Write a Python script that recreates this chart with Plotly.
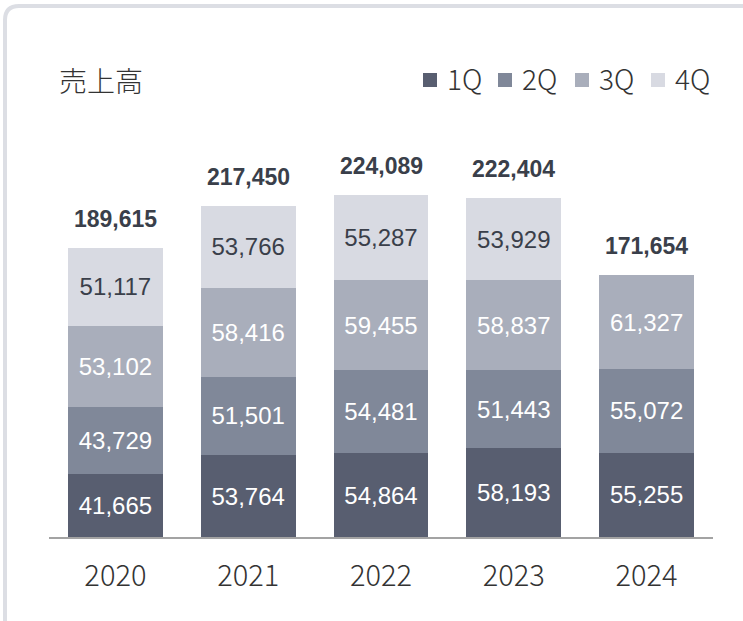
import plotly.graph_objects as go

W, H = 743, 621

# ---------------- data ----------------
years = ["2020", "2021", "2022", "2023", "2024"]
q1 = [41665, 53764, 54864, 58193, 55255]
q2 = [43729, 51501, 54481, 51443, 55072]
q3 = [53102, 58416, 59455, 58837, 61327]
q4 = [51117, 53766, 55287, 53929, None]
totals = [189615, 217450, 224089, 222404, 171654]

quarters = ["1Q", "2Q", "3Q", "4Q"]
colors = ["#585e70", "#808899", "#a9aebb", "#d8dae2"]
label_colors = ["#ffffff", "#ffffff", "#ffffff", "#3a3f4a"]

# pixel helpers (margins are 0, so paper == pixels)
def px(x):
    return x / W

def py(y):
    return 1 - y / H

fig = go.Figure()

for name, vals, c, tc in zip(quarters, [q1, q2, q3, q4], colors, label_colors):
    fig.add_trace(go.Bar(
        x=years, y=vals, name=name,
        marker=dict(color=c, line=dict(width=0)),
        text=[f"{v:,}" if v is not None else "" for v in vals],
        textposition="inside", insidetextanchor="middle", textangle=0,
        textfont=dict(family="Liberation Sans, Arial", size=24, color=tc),
        hoverinfo="skip", showlegend=False,
    ))

annotations = []
# totals above the bars (x given as category index, since "2020" would be read as a number)
for i, t in enumerate(totals):
    annotations.append(dict(
        x=i, y=t, xref="x", yref="y", text=f"<b>{t:,}</b>", showarrow=False,
        yanchor="middle", yshift=29,
        font=dict(family="Liberation Sans, Arial", size=23, color="#3a3f4a"),
    ))

# title
annotations.append(dict(
    xref="paper", yref="paper", x=px(57), y=py(80),
    xanchor="left", yanchor="middle", showarrow=False, text="売上高",
    font=dict(family="Noto Sans CJK JP", size=28, color="#333333", weight=300),
))

# card border
shapes = [dict(
    type="path", xref="paper", yref="paper",
    path=(f"M {px(5)},{py(660)} L {px(5)},{py(20)} "
          f"Q {px(5)},{py(6)} {px(19)},{py(6)} L {px(780)},{py(6)}"),
    line=dict(color="#dcdee4", width=4),
)]

# legend drawn by hand: square + label
legend_x = [423, 498, 575, 651]
for q, c, lx in zip(quarters, colors, legend_x):
    shapes.append(dict(
        type="rect", xref="paper", yref="paper",
        x0=px(lx), x1=px(lx + 14), y0=py(87), y1=py(73),
        fillcolor=c, line=dict(width=0),
    ))
    annotations.append(dict(
        xref="paper", yref="paper", x=px(lx + 22), y=py(78),
        xanchor="left", yanchor="middle", showarrow=False, text=q,
        font=dict(family="Noto Sans CJK JP", size=28, color="#333333", weight=300),
    ))

# y scale: baseline at 537px, 0.001524 px per unit
y_top_px = 130
ymax = (537 - y_top_px) / 0.001524

fig.update_layout(
    width=W, height=H,
    barmode="stack", bargap=0.285,
    margin=dict(l=0, r=0, t=0, b=0),
    paper_bgcolor="white", plot_bgcolor="white",
    uniformtext=dict(minsize=22, mode="show"),
    showlegend=False,
    xaxis=dict(
        type="category", automargin=False,
        domain=[px(49), px(713)], range=[-0.5, len(years) - 0.5],
        showline=True, linecolor="#a3a3a3", linewidth=2,
        showgrid=False, zeroline=False, fixedrange=True,
        ticks="", ticklabelstandoff=12,
        tickfont=dict(family="Noto Sans CJK JP", size=29, color="#333333", weight=300),
    ),
    yaxis=dict(
        automargin=False,
        domain=[py(537), py(y_top_px)],
        range=[0, ymax], visible=False, fixedrange=True,
    ),
    annotations=annotations,
    shapes=shapes,
)

fig.write_html("out.html", config={"displayModeBar": False},
               post_script="document.body.style.margin='0px';")
